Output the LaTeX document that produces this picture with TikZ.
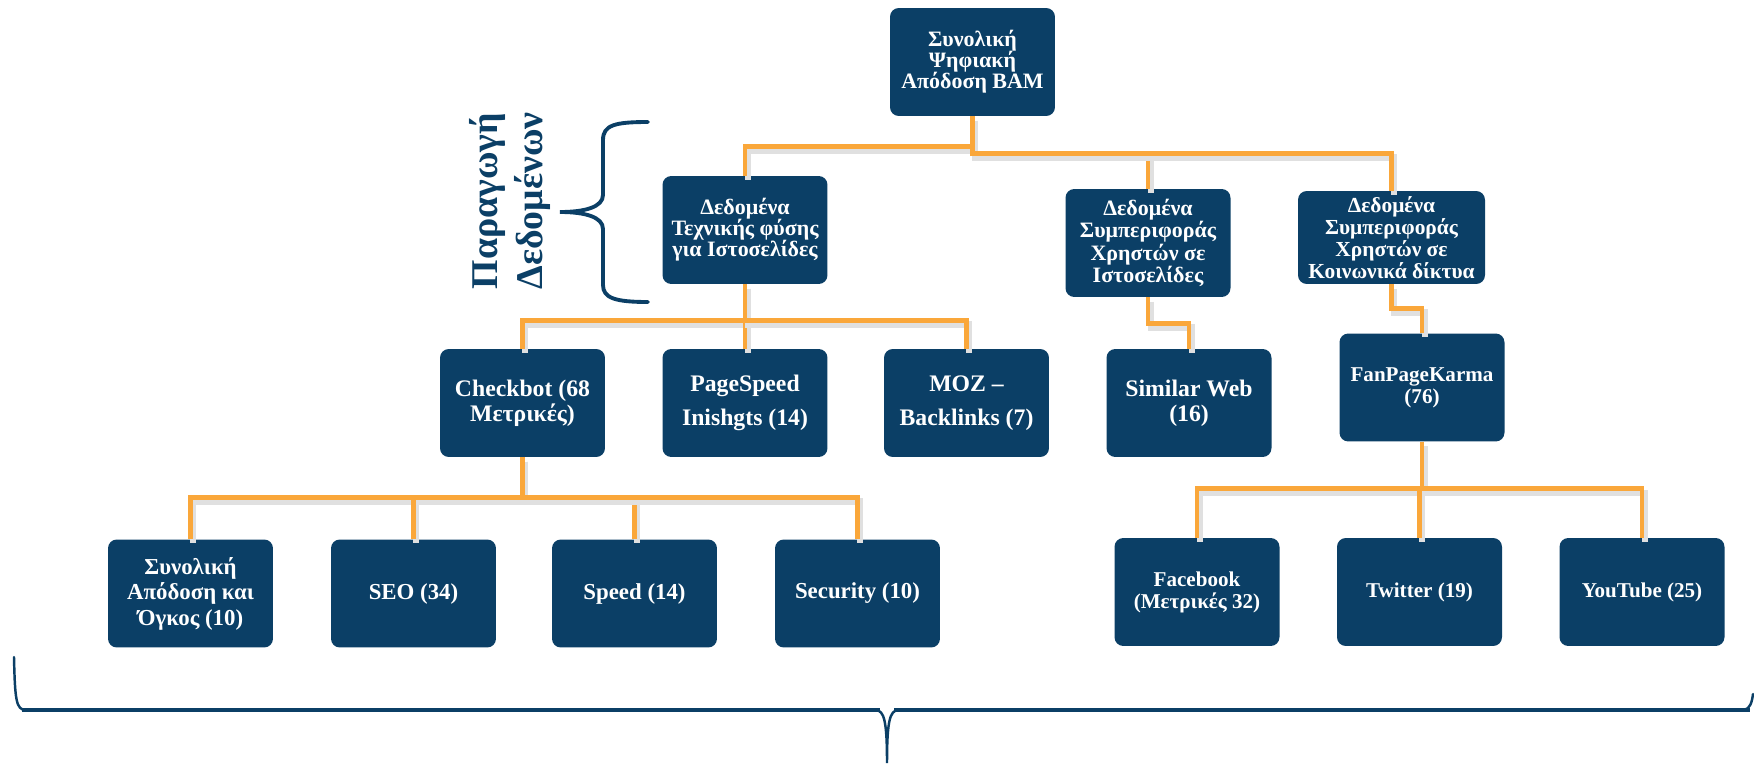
\documentclass[tikz,border=0pt]{standalone}
\usepackage{fontspec}
\setmainfont{Liberation Serif}
\usepackage{tikz}
\definecolor{boxblue}{RGB}{11,63,102}
\definecolor{linkorange}{RGB}{250,167,58}

\begin{document}
\begin{tikzpicture}[x=0.02cm, y=-0.02cm,
	box/.style={draw=none, fill=boxblue, rounded corners=5pt, text=white, align=center, inner sep=2pt, minimum width=3.3cm, minimum height=2.16cm},
	toplevel/.style={box, font=\bfseries\fontsize{12.5}{12}\selectfont},
	midlevel/.style={box, font=\bfseries\fontsize{13.5}{14}\selectfont},
	lowlevel/.style={box, font=\bfseries\fontsize{13}{14.5}\selectfont},
	link/.style={draw=linkorange, line width=2.8pt, preaction={draw=black!12, line width=3.6pt, transform canvas={shift={(1.6pt,-2.4pt)}}}},
	bracket/.style={draw=boxblue, line width=2.2pt, line cap=round}]
		\useasboundingbox (0,0) rectangle (1754,764);
		\node[toplevel] (root) at (972.5, 62) {Συνολική\\Ψηφιακή\\Απόδοση ΒΑΜ};
		\node[toplevel] (tech) at (745, 230) {Δεδομένα\\Τεχνικής φύσης\\για Ιστοσελίδες};
		\node[toplevel, font=\bfseries\fontsize{12.5}{12.8}\selectfont] (web) at (1148, 243) {Δεδομένα\\Συμπεριφοράς\\Χρηστών σε\\Ιστοσελίδες};
		\node[toplevel, font=\bfseries\fontsize{12.2}{12.6}\selectfont, minimum width=3.74cm, minimum height=1.86cm] (social) at (1391.5, 237.5) {Δεδομένα\\Συμπεριφοράς\\Χρηστών σε\\Κοινωνικά δίκτυα};
		
		\node[midlevel] (checkbot) at (522.5, 403) {Checkbot (68\\Μετρικές)};
		\node[midlevel, font=\bfseries\fontsize{13.5}{19.5}\selectfont] (pagespeed) at (745, 403) {PageSpeed\\Inishgts (14)};
		\node[midlevel, font=\bfseries\fontsize{13.5}{19.5}\selectfont] (moz) at (966.5, 403) {MOZ --\\Backlinks (7)};
		\node[midlevel] (similar) at (1189, 403) {Similar Web\\(16)};
		\node[midlevel, font=\bfseries\fontsize{12}{12.5}\selectfont] (karma) at (1422, 387.5) {FanPageKarma\\(76)};
		
		\node[lowlevel] (volume) at (190.5, 593.5) {Συνολική\\Απόδοση και\\Όγκος (10)};
		\node[lowlevel] (seo) at (413.5, 593.5) {SEO (34)};
		\node[lowlevel] (speed) at (634.5, 593.5) {Speed (14)};
		\node[lowlevel] (security) at (857.5, 593.5) {Security (10)};
		\node[lowlevel, font=\bfseries\fontsize{12}{12.5}\selectfont] (facebook) at (1197, 592) {Facebook\\(Μετρικές 32)};
		\node[lowlevel, font=\bfseries\fontsize{12}{12.5}\selectfont] (twitter) at (1419.5, 592) {Twitter (19)};
		\node[lowlevel, font=\bfseries\fontsize{12}{12.5}\selectfont] (youtube) at (1642, 592) {YouTube (25)};
		
		\draw[link] (root.south) -- ++(0,30) -| (tech.north);
		\draw[link] (root.south) -- ++(0,37) -| (web.north);
		\draw[link] (root.south) ++(0,37) -| (social.north);
		\foreach \child in {checkbot, pagespeed, moz}
			\draw[link] (tech.south) -- ++(0,36) -| (\child.north);
		\draw[link] (web.south) -- ++(0,26) -| (similar.north);
		\draw[link] (social.south) -- ++(0,24) -| (karma.north);
		\foreach \child in {volume, seo, speed, security}
			\draw[link] (checkbot.south) -- ++(0,40) -| (\child.north);
		\foreach \child in {facebook, twitter, youtube}
			\draw[link] (karma.south) -- ++(0,47) -| (\child.north);
		
		\node[rotate=90, align=center, text=boxblue, font=\bfseries\fontsize{21.5}{26}\selectfont] (title) at (510, 201) {Παραγωγή\\Δεδομένων};
		\draw[bracket] (648,122) .. controls (615,122) and (603,125) .. (603,140) -- (603,195) .. controls (603,207) and (585,212) .. (560,212) .. controls (585,212) and (603,217) .. (603,229) -- (603,285) .. controls (603,298) and (615,302) .. (648,302);
		\draw[bracket, line width=1.4pt] (14,657) .. controls (15,700) and (16,710) .. (26,710) -- (876,710) .. controls (884,711) and (887,720) .. (887,763) .. controls (887,720) and (890,711) .. (898,710) -- (1744,710) .. controls (1750,709) and (1752,702) .. (1753,694);
		\draw[bracket, line width=2.8pt, line cap=butt] (22,710) -- (880,710) (894,710) -- (1750,710);
	\end{tikzpicture}
\end{document}
